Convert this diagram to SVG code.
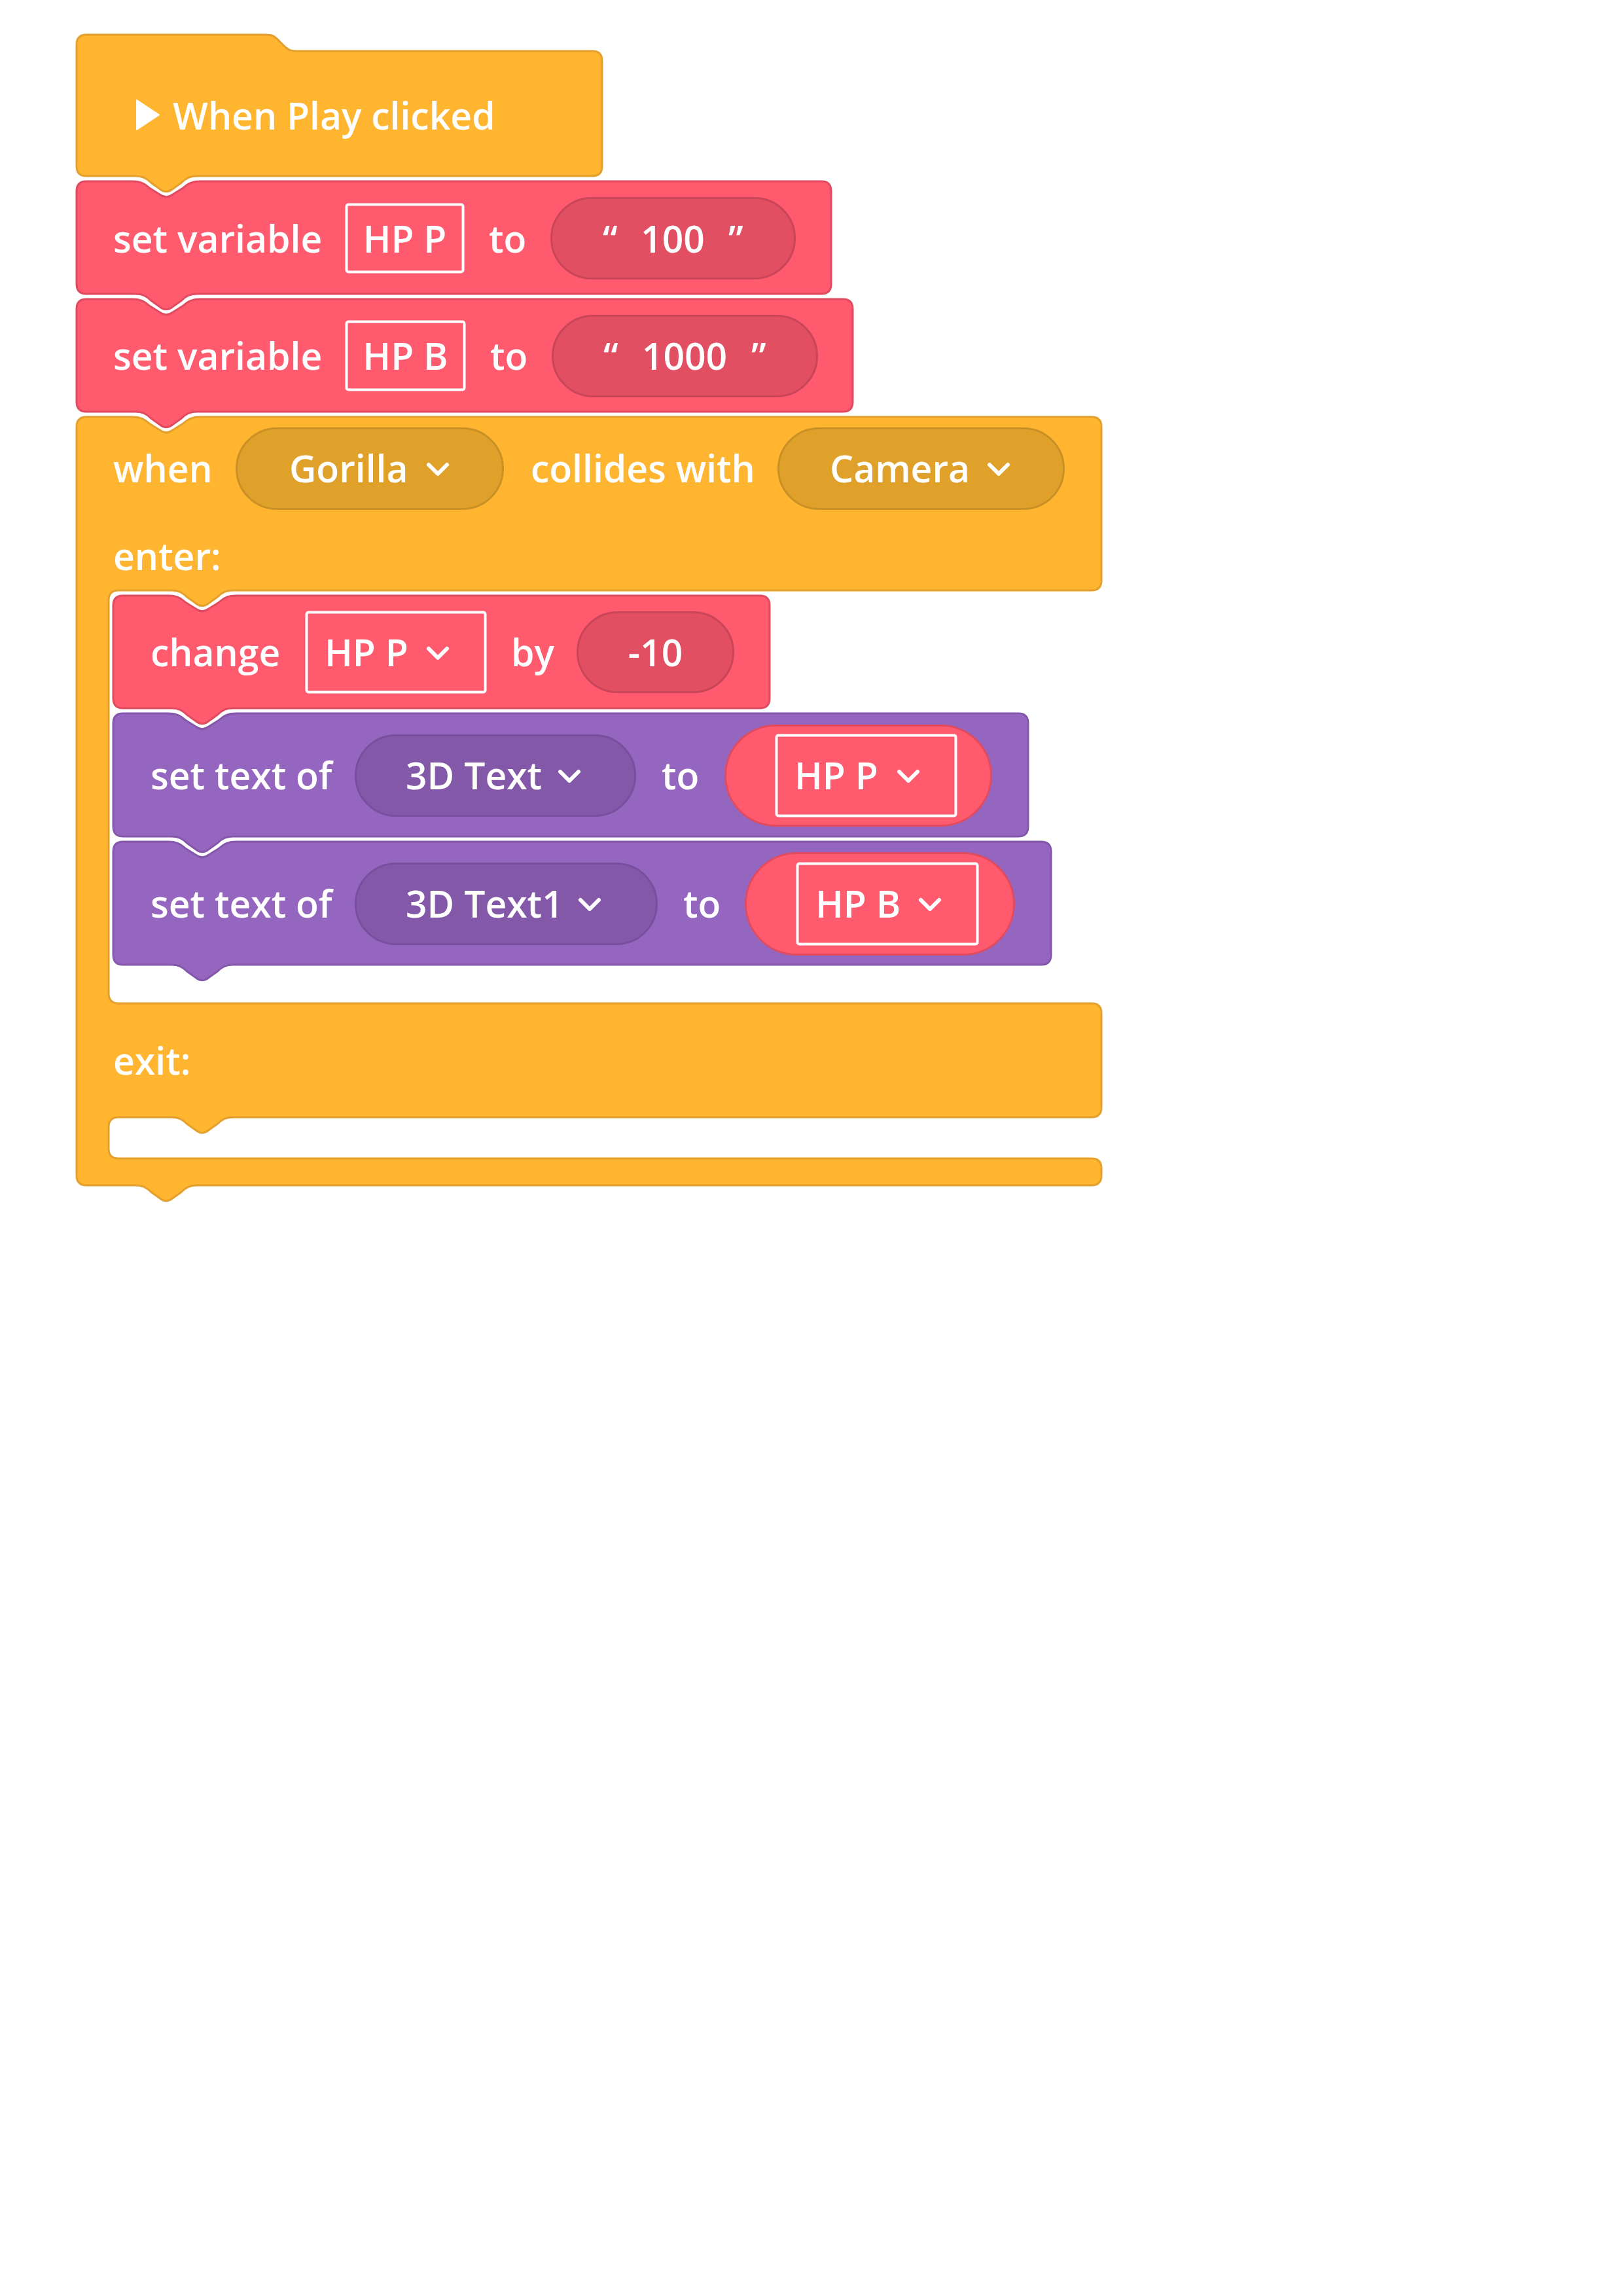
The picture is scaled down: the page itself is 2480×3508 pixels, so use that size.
<svg xmlns="http://www.w3.org/2000/svg" width="2480" height="3508" viewBox="0 0 2480 3508">
<style>
text{font-family:"Open Sans","Noto Sans","Liberation Sans",sans-serif;font-weight:600;font-size:57px;fill:#ffffff}
.orange{fill:#FFB530;stroke:#E3A02C;stroke-width:3;stroke-linejoin:round}
.red{fill:#FF5A6E;stroke:#E04B5F;stroke-width:3;stroke-linejoin:round}
.purple{fill:#9566BF;stroke:#8457AB;stroke-width:3;stroke-linejoin:round}
.opill{fill:#E0A12A;stroke:#C99026;stroke-width:3}
.rpill{fill:#E24F63;stroke:#C9455A;stroke-width:3}
.ppill{fill:#8458A9;stroke:#7A4E9F;stroke-width:3}
.rrep{fill:#FF5A6E;stroke:#E04B5F;stroke-width:3}
.vbox{fill:none;stroke:#ffffff;stroke-width:4}
.chev{fill:none;stroke:#ffffff;stroke-width:6;stroke-linecap:round;stroke-linejoin:round}
</style>
<g id="connectors"></g>
<g id="hat">
<path class="orange" d="M117,68 Q117,53 132,53 L405,53 C418,53 420,56 428,64 L436,72 C442,77 445,78 455,78 L905,78 Q920,78 920,93 L920,254 Q920,269 905,269 L301.5,269 c-11,0 -17,3 -24,10 l-14,10 c-6,5 -13,5 -19,0 l-14,-10 c-7,-7 -13,-10 -24,-10 L132,269 Q117,269 117,254 Z"/>
<polygon points="209,153 243,175.5 209,198" fill="#ffffff" stroke="#ffffff" stroke-width="2" stroke-linejoin="round"/>
<text x="264" y="198">When Play clicked</text>
</g>
<g id="setHPP">
<path class="red" d="M117,292 Q117,277 132,277 L202,277 c12,0 18,3 26,10 l16,10 c6.5,5 13.5,5 20,0 l16,-10 c8,-7 14,-10 26,-10 L1255,277 Q1270,277 1270,292 L1270,434 Q1270,449 1255,449 L301.5,449 c-11,0 -17,3 -24,10 l-14,10 c-6,5 -13,5 -19,0 l-14,-10 c-7,-7 -13,-10 -24,-10 L132,449 Q117,449 117,434 Z"/>
<text x="173" y="386">set variable</text>
<rect class="vbox" x="529.5" y="312.5" width="178" height="103" rx="3"/>
<text x="618.5" y="386" text-anchor="middle">HP P</text>
<text x="747" y="386">to</text>
<rect class="rpill" x="842.5" y="302.5" width="372" height="123" rx="61.5"/>
<text x="921" y="386">“</text>
<text x="1028" y="386" text-anchor="middle">100</text>
<text x="1113" y="386">”</text>
</g>
<g id="setHPB">
<path class="red" d="M117,472 Q117,457 132,457 L202,457 c12,0 18,3 26,10 l16,10 c6.5,5 13.5,5 20,0 l16,-10 c8,-7 14,-10 26,-10 L1288,457 Q1303,457 1303,472 L1303,614 Q1303,629 1288,629 L301.5,629 c-11,0 -17,3 -24,10 l-14,10 c-6,5 -13,5 -19,0 l-14,-10 c-7,-7 -13,-10 -24,-10 L132,629 Q117,629 117,614 Z"/>
<text x="173" y="565">set variable</text>
<rect class="vbox" x="529.5" y="491.5" width="180" height="104" rx="3"/>
<text x="619.5" y="565" text-anchor="middle">HP B</text>
<text x="749" y="565">to</text>
<rect class="rpill" x="844.5" y="482.5" width="404" height="123" rx="61.5"/>
<text x="922" y="565">“</text>
<text x="1046" y="565" text-anchor="middle">1000</text>
<text x="1148" y="565">”</text>
</g>
<g id="collision">
<path class="orange" d="M117,652 Q117,637 132,637 L202,637 c12,0 18,3 26,10 l16,10 c6.5,5 13.5,5 20,0 l16,-10 c8,-7 14,-10 26,-10 L1668,637 Q1683,637 1683,652 L1683,887 Q1683,902 1668,902 L356.5,902 c-11,0 -17,3 -24,10 l-14,10 c-6,5 -13,5 -19,0 l-14,-10 c-7,-7 -13,-10 -24,-10 L181,902 Q166,902 166,917 L166,1518 Q166,1533 181,1533 L1668,1533 Q1683,1533 1683,1548 L1683,1692 Q1683,1707 1668,1707 L356.5,1707 c-11,0 -17,3 -24,10 l-14,10 c-6,5 -13,5 -19,0 l-14,-10 c-7,-7 -13,-10 -24,-10 L181,1707 Q166,1707 166,1722 L166,1755 Q166,1770 181,1770 L1668,1770 Q1683,1770 1683,1785 L1683,1796 Q1683,1811 1668,1811 L301.5,1811 c-11,0 -17,3 -24,10 l-14,10 c-6,5 -13,5 -19,0 l-14,-10 c-7,-7 -13,-10 -24,-10 L132,1811 Q117,1811 117,1796 Z"/>
<text x="173" y="737">when</text>
<rect class="opill" x="361.5" y="654.5" width="407" height="123" rx="61.5"/>
<text x="442" y="737">Gorilla</text>
<path class="chev" d="M655,710 L669,724 L683,710"/>
<text x="811" y="737">collides with</text>
<rect class="opill" x="1189.5" y="654.5" width="436" height="123" rx="61.5"/>
<text x="1268" y="737">Camera</text>
<path class="chev" d="M1512,710 L1526,724 L1540,710"/>
<text x="173" y="871">enter:</text>
<text x="173" y="1642">exit:</text>
</g>
<g id="changeHPP">
<path class="red" d="M173,925 Q173,910 188,910 L257,910 c12,0 18,3 26,10 l16,10 c6.5,5 13.5,5 20,0 l16,-10 c8,-7 14,-10 26,-10 L1161,910 Q1176,910 1176,925 L1176,1067 Q1176,1082 1161,1082 L356.5,1082 c-11,0 -17,3 -24,10 l-14,10 c-6,5 -13,5 -19,0 l-14,-10 c-7,-7 -13,-10 -24,-10 L188,1082 Q173,1082 173,1067 Z"/>
<text x="230" y="1018">change</text>
<rect class="vbox" x="468.5" y="935.5" width="273" height="122" rx="3"/>
<text x="496" y="1018">HP P</text>
<path class="chev" d="M655,991 L669,1005 L683,991"/>
<text x="781" y="1018">by</text>
<rect class="rpill" x="882.5" y="935.5" width="238" height="122" rx="61"/>
<text x="1001.5" y="1018" text-anchor="middle">-10</text>
</g>
<g id="setText1">
<path class="purple" d="M173,1105 Q173,1090 188,1090 L257,1090 c12,0 18,3 26,10 l16,10 c6.5,5 13.5,5 20,0 l16,-10 c8,-7 14,-10 26,-10 L1556,1090 Q1571,1090 1571,1105 L1571,1263 Q1571,1278 1556,1278 L356.5,1278 c-11,0 -17,3 -24,10 l-14,10 c-6,5 -13,5 -19,0 l-14,-10 c-7,-7 -13,-10 -24,-10 L188,1278 Q173,1278 173,1263 Z"/>
<text x="230" y="1206">set text of</text>
<rect class="ppill" x="543.5" y="1123.5" width="427" height="123" rx="61.5"/>
<text x="620" y="1206">3D Text</text>
<path class="chev" d="M856,1179 L870,1193 L884,1179"/>
<text x="1011" y="1206">to</text>
<rect class="rrep" x="1108.5" y="1108.5" width="406" height="153" rx="76.5"/>
<rect class="vbox" x="1186.5" y="1123.5" width="274" height="123" rx="3"/>
<text x="1214" y="1206">HP P</text>
<path class="chev" d="M1374,1179 L1388,1193 L1402,1179"/>
</g>
<g id="setText2">
<path class="purple" d="M173,1301 Q173,1286 188,1286 L257,1286 c12,0 18,3 26,10 l16,10 c6.5,5 13.5,5 20,0 l16,-10 c8,-7 14,-10 26,-10 L1591,1286 Q1606,1286 1606,1301 L1606,1459 Q1606,1474 1591,1474 L356.5,1474 c-11,0 -17,3 -24,10 l-14,10 c-6,5 -13,5 -19,0 l-14,-10 c-7,-7 -13,-10 -24,-10 L188,1474 Q173,1474 173,1459 Z"/>
<text x="230" y="1402">set text of</text>
<rect class="ppill" x="543.5" y="1319.5" width="460" height="123" rx="61.5"/>
<text x="620" y="1402">3D Text1</text>
<path class="chev" d="M887,1375 L901,1389 L915,1375"/>
<text x="1044" y="1402">to</text>
<rect class="rrep" x="1139.5" y="1303.5" width="410" height="155" rx="77.5"/>
<rect class="vbox" x="1218.5" y="1319.5" width="275" height="123" rx="3"/>
<text x="1246" y="1402">HP B</text>
<path class="chev" d="M1407,1375 L1421,1389 L1435,1375"/>
</g>
</svg>
